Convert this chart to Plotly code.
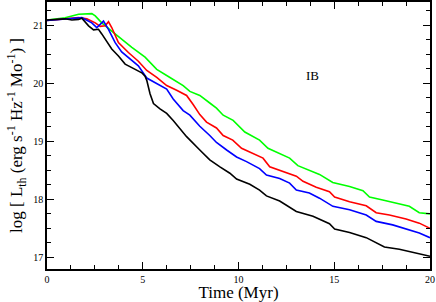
import plotly.graph_objects as go

# Time (Myr) and log L_th for each series
green_x = [0, 0.95, 1.65, 2.34, 2.52, 2.86, 3.38, 3.9, 4.43, 5.12, 5.73, 6.42, 7.11, 7.46, 7.98, 8.5, 8.85, 9.2, 9.72, 10.33, 11.1, 11.54, 12.15, 12.67, 13.1, 13.7, 14.23, 14.92, 15.8, 16.5, 16.84, 17.53, 18.23, 18.92, 19.44, 20.0]
green_y = [21.09, 21.13, 21.19, 21.20, 21.16, 21.04, 20.90, 20.76, 20.62, 20.45, 20.24, 20.10, 19.96, 19.86, 19.79, 19.66, 19.57, 19.45, 19.36, 19.16, 19.02, 18.88, 18.79, 18.71, 18.58, 18.50, 18.43, 18.29, 18.22, 18.15, 18.04, 17.99, 17.93, 17.88, 17.77, 17.75]

red_x = [0, 1.65, 2.08, 2.52, 2.78, 3.04, 3.21, 3.38, 3.73, 4.25, 4.77, 5.21, 5.73, 6.25, 6.77, 7.29, 7.64, 7.98, 8.33, 8.85, 9.2, 9.7, 10.16, 10.59, 11.28, 11.63, 12.33, 13.02, 13.37, 14.06, 14.75, 15.02, 15.8, 16.67, 17.19, 17.88, 18.75, 19.44, 20.0]
red_y = [21.08, 21.13, 21.11, 21.04, 20.98, 20.99, 21.06, 20.96, 20.70, 20.53, 20.38, 20.22, 20.10, 19.96, 19.88, 19.79, 19.63, 19.46, 19.33, 19.23, 19.10, 19.02, 18.88, 18.82, 18.71, 18.56, 18.48, 18.40, 18.31, 18.21, 18.13, 18.04, 17.96, 17.89, 17.77, 17.73, 17.66, 17.59, 17.50]

blue_x = [0, 1.82, 2.34, 2.6, 2.86, 2.95, 3.21, 3.56, 3.9, 4.43, 4.77, 5.21, 5.73, 6.25, 6.59, 7.11, 7.46, 7.98, 8.5, 8.85, 9.38, 9.9, 10.42, 11.1, 11.46, 12.15, 12.67, 13.02, 13.7, 14.23, 14.93, 15.8, 16.67, 17.19, 18.05, 18.92, 19.44, 20.0]
blue_y = [21.08, 21.13, 21.04, 20.96, 21.04, 21.07, 20.93, 20.70, 20.54, 20.40, 20.30, 20.09, 19.99, 19.90, 19.73, 19.53, 19.45, 19.26, 19.10, 18.98, 18.85, 18.73, 18.65, 18.53, 18.42, 18.36, 18.28, 18.16, 18.11, 18.02, 17.88, 17.82, 17.73, 17.62, 17.56, 17.48, 17.42, 17.34]

black_x = [0, 0.95, 1.3, 1.65, 1.82, 2.17, 2.43, 2.69, 2.86, 3.04, 3.38, 3.73, 4.08, 4.43, 4.95, 5.12, 5.21, 5.38, 5.56, 5.9, 6.25, 6.59, 6.94, 7.29, 7.98, 8.5, 9.03, 9.55, 9.9, 10.59, 11.1, 11.46, 12.15, 13.02, 13.89, 14.75, 15.02, 15.8, 16.67, 17.36, 17.62, 18.4, 19.27, 20.0]
black_y = [21.09, 21.11, 21.09, 21.10, 21.12, 20.99, 20.92, 20.93, 20.85, 20.76, 20.59, 20.47, 20.33, 20.27, 20.18, 20.12, 20.05, 19.82, 19.65, 19.56, 19.48, 19.36, 19.22, 19.08, 18.85, 18.68, 18.56, 18.45, 18.35, 18.26, 18.16, 18.06, 17.97, 17.79, 17.71, 17.58, 17.49, 17.43, 17.34, 17.22, 17.18, 17.14, 17.08, 17.02]

x_ticks = [0, 5, 10, 15, 20]
y_ticks = [17, 18, 19, 20, 21]
label_text = "IB"

fig = go.Figure()
for xs, ys, col in [(green_x, green_y, "#00ff00"), (red_x, red_y, "#ff0000"),
                    (blue_x, blue_y, "#0000ff"), (black_x, black_y, "#000000")]:
    fig.add_trace(go.Scatter(x=xs, y=ys, mode="lines",
                             line=dict(color=col, width=1.6), showlegend=False))

fig.add_annotation(x=13.87, y=20.13, text=label_text, showarrow=False,
                   font=dict(family="Liberation Serif", size=13, color="black"))

axis_common = dict(showgrid=False, zeroline=False, showline=True, linecolor="black",
                   linewidth=1.5, mirror="ticks", ticks="inside", ticklen=7,
                   tickwidth=1, tickcolor="black", automargin=False,
                   tickfont=dict(family="Liberation Serif", size=10, color="black"))

fig.update_xaxes(range=[0, 20], tickvals=x_ticks, ticktext=[str(v) for v in x_ticks],
                 minor=dict(ticks="inside", dtick=1.25, tick0=0, ticklen=4, tickcolor="black"),
                 title=dict(text="Time (Myr)", standoff=4,
                            font=dict(family="Liberation Serif", size=17, color="black")),
                 **axis_common)
fig.update_yaxes(range=[16.8, 21.4], tickvals=y_ticks, ticktext=[str(v) for v in y_ticks],
                 minor=dict(ticks="inside", dtick=0.25, tick0=17, ticklen=4, tickcolor="black"),
                 title=dict(text="log [ L<sub>th</sub> (erg s<sup>-1</sup> Hz<sup>-1</sup> Mo<sup>-1</sup>) ]",
                            standoff=6,
                            font=dict(family="Liberation Serif", size=17, color="black")),
                 **axis_common)

fig.update_layout(width=436, height=302, margin=dict(l=47, r=6, t=2, b=33),
                  paper_bgcolor="white", plot_bgcolor="white")
fig.write_html("out.html", config={"displayModeBar": False},
               post_script="document.body.style.margin='0';document.body.style.overflow='hidden';")
